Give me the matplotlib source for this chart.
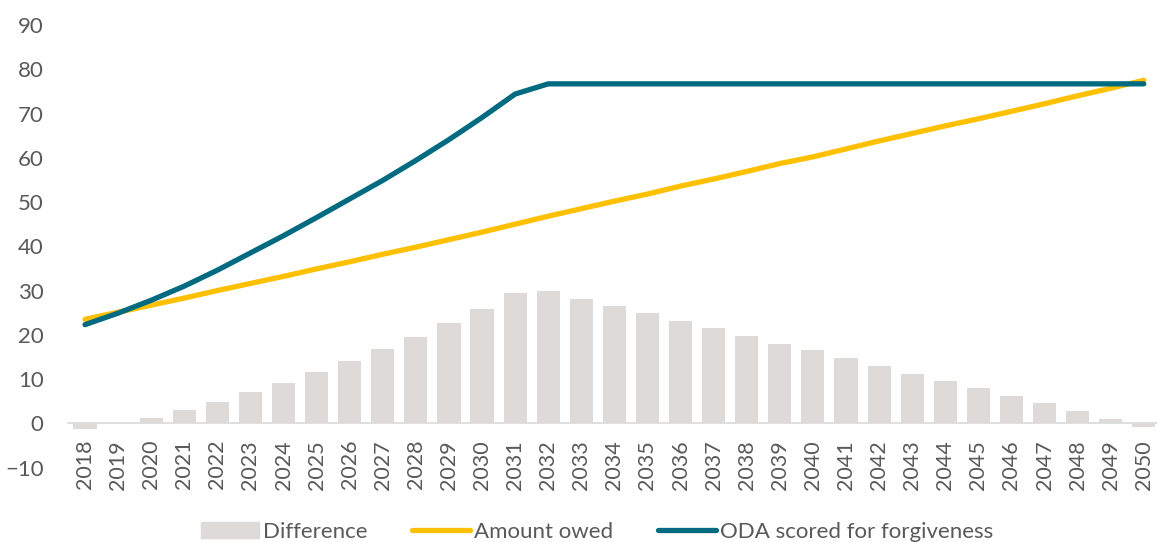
import matplotlib.pyplot as plt
from matplotlib.patches import Patch
from matplotlib.lines import Line2D

plt.rcParams['font.family'] = ['Lato', 'DejaVu Sans']

years = list(range(2018, 2051))
difference = [-1.2, 0.1, 1.3, 2.9, 4.8, 7.0, 9.2, 11.5, 14.1, 16.7, 19.6, 22.6, 25.9, 29.4, 29.9,
              28.2, 26.5, 24.9, 23.1, 21.5, 19.8, 18.0, 16.5, 14.7, 12.9, 11.2, 9.5, 7.9, 6.2,
              4.5, 2.7, 1.0, -0.8]
amount_owed = [23.5, 25.1, 26.7, 28.3, 30.0, 31.6, 33.2, 34.9, 36.5, 38.2, 39.8, 41.5, 43.2, 45.0,
               46.8, 48.5, 50.2, 51.8, 53.6, 55.2, 56.9, 58.7, 60.2, 62.0, 63.8, 65.5, 67.2, 68.8,
               70.5, 72.2, 74.0, 75.7, 77.5]
oda_scored = [22.3, 24.9, 27.8, 31.0, 34.6, 38.5, 42.4, 46.5, 50.7, 54.9, 59.4, 64.1, 69.1, 74.4,
              76.7, 76.7, 76.7, 76.7, 76.7, 76.7, 76.7, 76.7, 76.7, 76.7, 76.7, 76.7, 76.7, 76.7,
              76.7, 76.7, 76.7, 76.7, 76.7]

bar_col = '#DEDAD7'
gold = '#FFC000'
teal = '#006B80'
txt = '#595959'

fig = plt.figure(figsize=(11.57, 5.42), dpi=100)
ax = fig.add_axes([0.0592, 0.1373, 0.9408, 0.8166])

x = range(len(years))
ax.bar(x, difference, width=0.7, color=bar_col, zorder=1)
ax.plot(x, amount_owed, color=gold, lw=3.8, solid_capstyle='round', solid_joinstyle='round', zorder=3)
ax.plot(x, oda_scored, color=teal, lw=3.8, solid_capstyle='round', solid_joinstyle='round', zorder=4)

ax.set_xlim(-0.5, 32.4)
ax.set_ylim(-10, 90)
ax.set_yticks(range(-10, 91, 10))
ax.set_xticks(list(x))
ax.set_xticklabels([str(y) for y in years])

for s in ['top', 'right', 'left']:
    ax.spines[s].set_visible(False)
ax.spines['bottom'].set_position(('data', 0))
ax.spines['bottom'].set_color('#D9D9D9')
ax.spines['bottom'].set_linewidth(1.2)
ax.spines['bottom'].set_zorder(0.5)

ax.tick_params(axis='y', length=0, pad=18, labelsize=16, labelcolor=txt)
ax.tick_params(axis='x', length=0, pad=12, labelsize=15.5, labelcolor=txt, labelrotation=90)
for lab in ax.get_xticklabels():
    lab.set_va('top')
    lab.set_ha('center')

handles = [Patch(color=bar_col),
           Line2D([0], [0], color=gold, lw=3.8, solid_capstyle='round'),
           Line2D([0], [0], color=teal, lw=3.8, solid_capstyle='round')]
labels = ['Difference', 'Amount owed', 'ODA scored for forgiveness']
fig.legend(handles, labels, loc='lower center', bbox_to_anchor=(0.516, -0.036), ncol=3,
           frameon=False, fontsize=16, labelcolor=txt, handlelength=2.6,
           handleheight=0.7, handletextpad=0.2, columnspacing=2.0)

fig.savefig('out.png', dpi=100)
